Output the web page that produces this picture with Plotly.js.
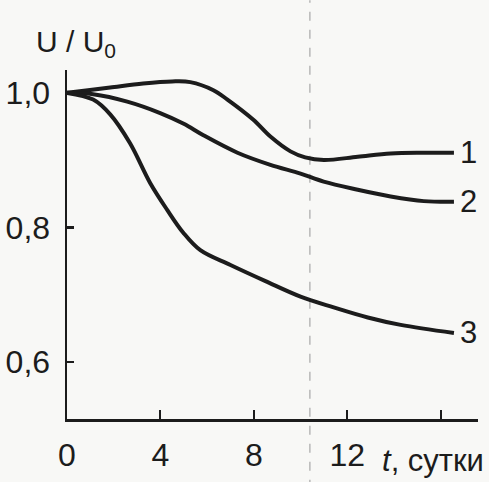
<!DOCTYPE html>
<html><head><meta charset="utf-8">
<script src="https://cdn.plot.ly/plotly-3.0.1.min.js"></script>
<style>html,body{margin:0;padding:0;background:#f8f8f6;}#c{width:489px;height:482px;}</style>
</head><body><div id="c"></div>
<script>
const x1 = [0, 0.9, 1.85, 3.26, 4.5, 5.28, 6.27, 6.87, 7.98, 8.71, 9.57, 10.2, 11.0, 12.45, 13.86, 15.3, 16.57];
const y1 = [1.0, 1.004, 1.008, 1.014, 1.017, 1.016, 1.004, 0.990, 0.960, 0.935, 0.913, 0.904, 0.900, 0.905, 0.910, 0.911, 0.911];
const x2 = [0, 1.12, 2.58, 3.99, 5.0, 5.84, 7.30, 8.71, 10.0, 10.99, 12.45, 13.86, 15.28, 16.57];
const y2 = [1.0, 0.998, 0.987, 0.970, 0.954, 0.937, 0.911, 0.893, 0.880, 0.868, 0.856, 0.846, 0.839, 0.838];
const x3 = [0, 1.12, 1.85, 2.7, 3.56, 4.29, 4.98, 5.71, 7.0, 8.5, 10.0, 11.42, 12.88, 14.29, 16.57];
const y3 = [1.0, 0.990, 0.968, 0.925, 0.866, 0.826, 0.792, 0.766, 0.744, 0.720, 0.697, 0.681, 0.666, 0.655, 0.643];
const curveNames = ['1', '2', '3'];
const xTicks = [0, 4, 8, 12, 16];
const xTickText = ['0', '4', '8', '12', ' '];
const yTicks = [1.0, 0.8, 0.6];
const yTickText = ['1,0', '0,8', '0,6'];
const foldX = 10.4;

const font = 'Liberation Sans Narrow, Arial Narrow, Liberation Sans, sans-serif';
const ink = '#1c1c1c';
const lineStyle = {color: ink, width: 4, shape: 'spline', smoothing: 1};
const series = [[x1, y1], [x2, y2], [x3, y3]];
const traces = series.map((s, i) => ({x: s[0], y: s[1], mode: 'lines', line: lineStyle, name: curveNames[i], hoverinfo: 'skip'}));

const annotations = series.map((s, i) => ({
  x: 17.2, y: s[1][s[1].length - 1], xref: 'x', yref: 'y', text: curveNames[i],
  showarrow: false, xanchor: 'center', yanchor: 'middle', font: {family: font, size: 31, color: ink}
}));
annotations.push({x: -0.08, y: 1.075, xref: 'paper', yref: 'paper', xanchor: 'left', yanchor: 'middle',
  text: 'U / U<sub>0</sub>', showarrow: false, font: {family: font, size: 30, color: ink}});
annotations.push({x: 1.02, y: -0.12, xref: 'paper', yref: 'paper', xanchor: 'right', yanchor: 'middle',
  text: '<i>t</i>, сутки', showarrow: false, font: {family: font, size: 31, color: ink}});

const layout = {
  width: 489, height: 482,
  margin: {l: 67, r: 11, t: 70, b: 63},
  paper_bgcolor: '#f8f8f6', plot_bgcolor: 'rgba(0,0,0,0)',
  showlegend: false,
  xaxis: {range: [0, 17.6], tickvals: xTicks, ticktext: xTickText, ticks: 'inside', ticklen: 9, tickwidth: 2,
    tickcolor: ink, showline: true, linecolor: ink, linewidth: 2.5, showgrid: false, zeroline: false,
    tickfont: {family: font, size: 32, color: ink}, ticklabelstandoff: 6},
  yaxis: {range: [0.515, 1.034], tickvals: yTicks, ticktext: yTickText, ticks: 'inside', ticklen: 7, tickwidth: 2.5,
    tickcolor: ink, showline: true, linecolor: ink, linewidth: 2.5, showgrid: false, zeroline: false,
    tickfont: {family: font, size: 32, color: ink}, ticklabelstandoff: 8},
  shapes: [{type: 'line', xref: 'x', yref: 'paper', x0: foldX, x1: foldX, y0: -0.2, y1: 1.2,
    line: {color: '#b8b8b8', width: 1.5, dash: 'dash'}, layer: 'below'}],
  annotations: annotations
};
Plotly.newPlot('c', traces, layout, {staticPlot: true, displayModeBar: false});
</script></body></html>
